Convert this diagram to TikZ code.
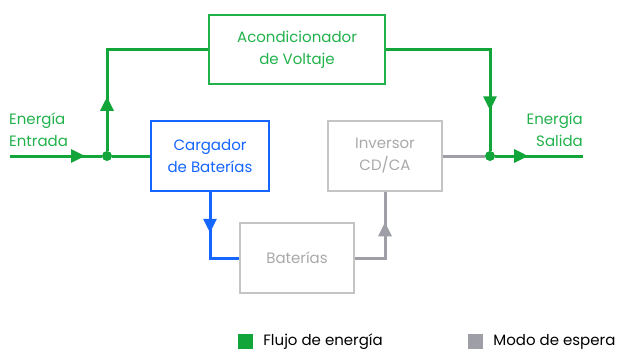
\documentclass[tikz,border=0pt]{standalone}
\usepackage{fontspec}
\setmainfont{Poppins}
\usetikzlibrary{arrows.meta,decorations.markings,positioning}
\definecolor{flow_green}{HTML}{12A539}
\definecolor{text_green}{HTML}{22B24C}
\definecolor{flow_blue}{HTML}{1565FF}
\definecolor{flow_gray}{HTML}{9E9EA6}
\definecolor{box_gray}{HTML}{C4C4C4}
\definecolor{text_gray}{HTML}{A9A9A9}
\tikzstyle{box_normal} = [draw, line width=1.5pt, minimum width=116pt, minimum height=70pt, align=center, font=\fontsize{15}{22}\selectfont]
\tikzstyle{box_green} = [box_normal, draw=text_green, text=text_green]
\tikzstyle{box_blue} = [box_normal, draw=flow_blue, text=flow_blue]
\tikzstyle{box_gray} = [box_normal, draw=box_gray, text=text_gray]
\tikzstyle{node_joint} = [circle, fill=flow_green, inner sep=0pt, minimum size=10pt]
\tikzstyle{edge_flow} = [line width=3pt]
\tikzstyle{tip_at} = [postaction={decorate}, decoration={markings, mark=at position #1 with {\arrow{Triangle[length=14pt,width=13pt]}}}]
\tikzstyle{label_text} = [font=\fontsize{15}{22}\selectfont, text=text_green, inner sep=0pt]
\tikzstyle{legend_text} = [font=\fontsize{15}{18}\selectfont, inner sep=0pt]

\begin{document}
\begin{tikzpicture}[x=1pt, y=-1pt]
\clip (0,0) rectangle (618,354);
\fill[white] (0,0) rectangle (618,354);

\node (AV) at (297,49.5) [box_green, minimum width=176pt, minimum height=69pt] {Acondicionador\\de Voltaje};
\node (CB) at (210,156) [box_blue, minimum width=118pt] {Cargador\\de Baterías};
\node (IV) at (385,156) [box_gray, minimum width=114pt] {Inversor\\CD/CA};
\node (BT) at (297,258) [box_gray, minimum width=114pt] {Baterías};

\node (J1) at (107,156) [node_joint] {};
\node (J2) at (490,156) [node_joint] {};
\coordinate (IN) at (10,156);
\coordinate (OUT) at (583,156);

\node (TIN) at (9,147) [label_text, anchor=south west, align=left] {Energía\\Entrada};
\node (TOUT) at (583,147) [label_text, anchor=south east, align=right] {Energía\\Salida};

% flujo principal
\draw[edge_flow, flow_green, tip_at=75pt] (IN) -- (J1);
\draw[edge_flow, flow_green] (J1) -- (CB.west);
\draw[edge_flow, flow_green, tip_at=54pt] (J1) |- (AV.west);
\draw[edge_flow, flow_green, tip_at=165pt] (AV.east) -| (J2);
\draw[edge_flow, flow_green, tip_at=33pt] (J2) -- (OUT);

% carga y respaldo
\draw[edge_flow, flow_blue, tip_at=41pt] (CB.south) |- (BT.west);
\draw[edge_flow, flow_gray, tip_at=66pt] (BT.east) -| (IV.south);
\draw[edge_flow, flow_gray] (IV.east) -- (J2);

% leyenda
\node (LG) at (245.5,341.5) [fill=flow_green, minimum size=15pt, inner sep=0pt] {};
\node (LGT) [right=10pt of LG, legend_text] {Flujo de energía};
\node (LS) at (475.5,341.5) [fill=flow_gray, minimum size=15pt, inner sep=0pt] {};
\node (LST) [right=10pt of LS, legend_text] {Modo de espera};
\end{tikzpicture}
\end{document}
